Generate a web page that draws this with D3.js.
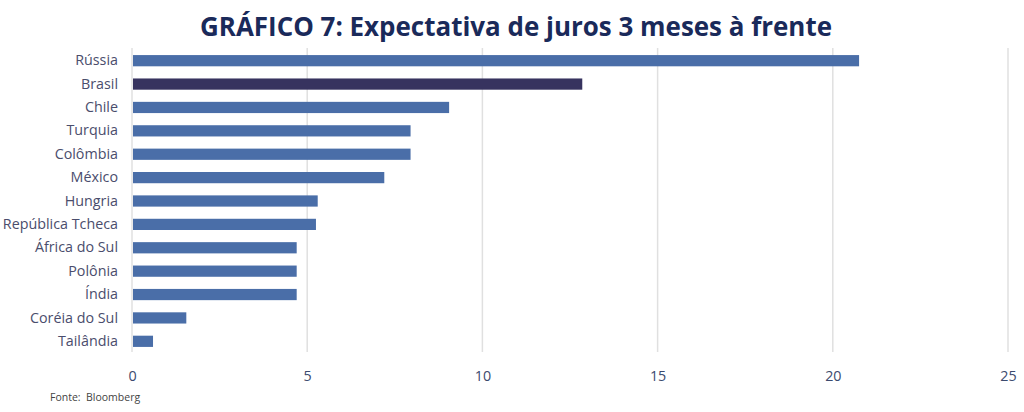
<!DOCTYPE html>
<html>
<head>
<meta charset="utf-8">
<script src="https://cdn.jsdelivr.net/npm/d3@7/dist/d3.min.js"></script>
<style>
  body { margin: 0; background: #fff; }
  text { font-family: "Open Sans", "Noto Sans", sans-serif; }
</style>
</head>
<body>
<div class="chart"></div>
<script>
// dados
const paises = ['Rússia', 'Brasil', 'Chile', 'Turquia', 'Colômbia', 'México', 'Hungria',
  'República Tcheca', 'África do Sul', 'Polônia', 'Índia', 'Coréia do Sul', 'Tailândia'];
const juros = [20.75, 12.85, 9.05, 7.95, 7.95, 7.2, 5.3, 5.25, 4.7, 4.7, 4.7, 1.55, 0.6];
const ticks = [0, 5, 10, 15, 20, 25];
const destaque = 'Brasil';

const data = paises.map((p, i) => ({ pais: p, valor: juros[i] }));

const width = 1024, height = 412;
const margin = { top: 48, right: 16, bottom: 60, left: 132 };

const svg = d3.select('.chart').append('svg')
  .attr('width', width).attr('height', height);

const x = d3.scaleLinear().domain([0, 25]).range([margin.left, width - margin.right]);
const y = d3.scaleBand().domain(paises)
  .range([margin.top + 1, height - margin.bottom + 1]).paddingInner(0.52).paddingOuter(0.26);

// grade vertical
svg.append('g').selectAll('line')
  .data(ticks)
  .join('line')
  .attr('x1', d => x(d)).attr('x2', d => x(d))
  .attr('y1', margin.top).attr('y2', height - margin.bottom)
  .attr('stroke', '#e0e0e0').attr('stroke-width', 1.5);

// barras
svg.append('g').selectAll('rect')
  .data(data)
  .join('rect')
  .attr('x', x(0) + 1)
  .attr('y', d => y(d.pais))
  .attr('width', d => x(d.valor) - x(0) - 1)
  .attr('height', y.bandwidth())
  .attr('fill', d => d.pais === destaque ? '#37335f' : '#4a6ea8');

// eixo y (rótulos)
const yAxis = d3.axisLeft(y).tickSize(0).tickPadding(14);
const yg = svg.append('g').attr('transform', `translate(${margin.left},0)`).call(yAxis);
yg.select('.domain').remove();
yg.selectAll('text').attr('font-size', 14.3).attr('fill', '#4a4d6c')
  .attr('font-family', '"Open Sans", sans-serif');

// eixo x
const xAxis = d3.axisBottom(x).tickValues(ticks).tickSize(0).tickPadding(19);
const xg = svg.append('g').attr('transform', `translate(0,${height - margin.bottom})`).call(xAxis);
xg.select('.domain').remove();
xg.selectAll('text').attr('font-size', 14.3).attr('fill', '#3b4a6e')
  .attr('font-family', '"Open Sans", sans-serif');

// título
svg.append('text')
  .attr('x', 516).attr('y', 36)
  .attr('text-anchor', 'middle')
  .attr('font-family', '"DejaVu Sans Condensed", "DejaVu Sans", sans-serif')
  .attr('font-weight', 'bold')
  .attr('font-size', 27)
  .attr('fill', '#1a2a5a')
  .attr('textLength', 632).attr('lengthAdjust', 'spacingAndGlyphs')
  .text('GRÁFICO 7: Expectativa de juros 3 meses à frente');

// fonte
svg.append('text')
  .attr('x', 50).attr('y', 401)
  .attr('font-size', 10.5).attr('fill', '#444')
  .attr('xml:space', 'preserve')
  .text('Fonte:  Bloomberg');
</script>
</body>
</html>
